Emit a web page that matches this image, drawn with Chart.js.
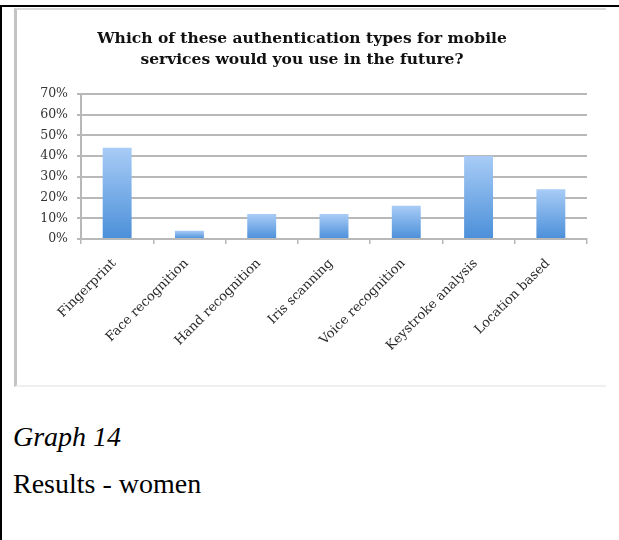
<!DOCTYPE html>
<html>
<head>
<meta charset="utf-8">
<script src="https://cdn.jsdelivr.net/npm/chart.js@4/dist/chart.umd.min.js"></script>
<style>
  body { margin: 0; width: 619px; height: 540px; background: #fff; position: relative; overflow: hidden; }
  .rule-top { position: absolute; left: 0; top: 5px; width: 619px; height: 2px; background: #000; }
  .rule-left { position: absolute; left: 0; top: 5px; width: 2px; height: 535px; background: #000; }
  .frame {
    position: absolute; left: 14px; top: 8px; width: 589px; height: 375px;
    border-left: 3px solid #c4c4c4; border-top: 2px solid #d8d8d8; border-bottom: 2px solid #efefef;
  }
  .frame canvas { filter: blur(0.35px); }
  .caption { position: absolute; left: 13px; font-family: "Liberation Serif", serif; font-size: 28px; color: #000; }
  #graph-no { top: 421px; font-style: italic; }
  #graph-sub { top: 468px; }
</style>
</head>
<body>
<div class="rule-top"></div>
<div class="rule-left"></div>
<div class="frame"><canvas id="auth-chart" width="589" height="375"></canvas></div>
<div class="caption" id="graph-no">Graph 14</div>
<div class="caption" id="graph-sub">Results - women</div>

<script>
// Survey answers, women only (percent of respondents)
const authTypes = ['Fingerprint', 'Face recognition', 'Hand recognition', 'Iris scanning',
  'Voice recognition', 'Keystroke analysis', 'Location based'];
const womenShare = [44, 4, 12, 12, 16, 40, 24];
const titleLines = ['Which of these authentication types for mobile', 'services would you use in the future?'];

const serif = '"DejaVu Serif", "Liberation Serif", serif';
const gridGray = '#b8b8b8';

// vertical light-to-dark blue fill, one gradient per bar
function barFill(context) {
  const chart = context.chart;
  if (!chart.chartArea) return '#6aa5e8';
  const y = chart.scales.y;
  const top = y.getPixelForValue(context.raw);
  const bottom = y.getPixelForValue(0);
  const g = chart.ctx.createLinearGradient(0, top, 0, bottom);
  g.addColorStop(0, '#a8ccf6');
  g.addColorStop(1, '#4b8fd9');
  return g;
}

new Chart(document.getElementById('auth-chart'), {
  type: 'bar',
  data: {
    labels: authTypes,
    datasets: [{
      data: womenShare,
      backgroundColor: barFill,
      borderWidth: 0,
      barPercentage: 0.8,
      categoryPercentage: 0.5
    }]
  },
  options: {
    responsive: false,
    animation: false,
    layout: { padding: { left: 0, right: 19, top: 0, bottom: 0 } },
    plugins: {
      legend: { display: false },
      tooltip: { enabled: false },
      title: {
        display: true,
        text: titleLines,
        color: '#111',
        font: { family: serif, size: 15.5, weight: 'bold', lineHeight: 1.35 },
        padding: { top: 19, bottom: 23 }
      }
    },
    scales: {
      x: {
        grid: { display: true, drawOnChartArea: false, drawTicks: true, tickLength: 5, color: gridGray, lineWidth: 1.5 },
        border: { display: true, color: gridGray, width: 2 },
        ticks: {
          minRotation: 45, maxRotation: 45, padding: 12, labelOffset: -3,
          color: '#2a2a2a',
          font: { family: serif, size: 13 }
        },
        afterFit: s => { s.height = 146; }
      },
      y: {
        min: 0, max: 70,
        grid: { color: gridGray, lineWidth: 2, tickLength: 4 },
        border: { display: true, color: gridGray, width: 2 },
        ticks: {
          stepSize: 10, padding: 9,
          color: '#333',
          font: { family: serif, size: 12.5 },
          callback: v => v + '%'
        },
        afterFit: s => { s.width = 64; }
      }
    }
  }
});
</script>
</body>
</html>
